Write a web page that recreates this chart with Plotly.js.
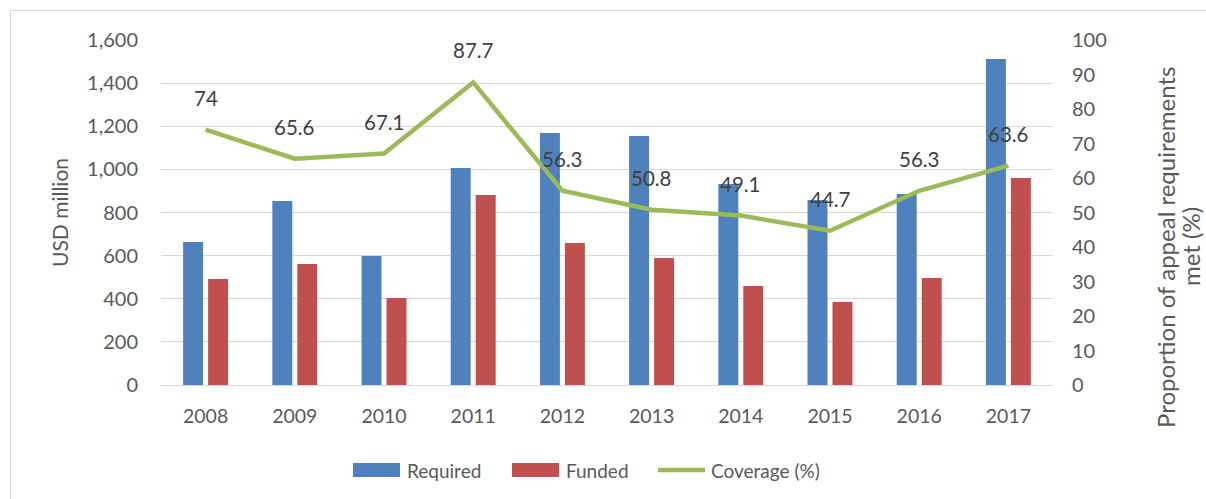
<!DOCTYPE html>
<html>
<head>
<meta charset="utf-8">
<script src="https://cdn.plot.ly/plotly-3.0.1.min.js"></script>
<style>
  html, body { margin: 0; padding: 0; background: #ffffff; }
  #chart { width: 1206px; height: 499px; }
  #frame { position: absolute; left: 10px; top: 10px; width: 1200px; height: 495px;
           border-left: 1px solid #d9d9d9; border-top: 1px solid #d9d9d9; pointer-events: none; }
</style>
</head>
<body>
<div id="chart"></div>
<div id="frame"></div>
<script>
const years = ['2008','2009','2010','2011','2012','2013','2014','2015','2016','2017'];
const required = [663, 853, 598, 1006, 1169, 1155, 932, 858, 886, 1512];
const funded = [492, 561, 403, 881, 659, 589, 459, 385, 496, 960];
const coverage = [74, 65.6, 67.1, 87.7, 56.3, 50.8, 49.1, 44.7, 56.3, 63.6];
const seriesNames = ['Required', 'Funded', 'Coverage (%)'];
const colors = ['#4F81BD', '#C0504D', '#9BBB59'];
const leftTitle = 'USD million';
const rightTitleLines = ['Proportion of appeal requirements', 'met (%)'];

const FONT = 'Lato, Calibri, Carlito, sans-serif';
const TXT = '#595959';

const traces = [
  { type: 'bar', name: seriesNames[0], x: years, y: required, marker: { color: colors[0] }, showlegend: false, hoverinfo: 'y' },
  { type: 'bar', name: seriesNames[1], x: years, y: funded, marker: { color: colors[1] }, showlegend: false, hoverinfo: 'y' },
  { type: 'scatter', mode: 'lines', name: seriesNames[2], x: years, y: coverage, yaxis: 'y2',
    line: { color: colors[2], width: 4.5 }, showlegend: false, hoverinfo: 'y' }
];

// data labels: x given as category index on the category axis
const annotations = coverage.map((v, i) => ({
  x: i, y: v, xref: 'x', yref: 'y2', text: String(v), showarrow: false,
  yshift: 32, font: { family: FONT, size: 20.5, color: '#404040' }
}));

// paper coordinate helpers (plot area is 892 x 345 px)
const W = 892, H = 345, L = 161, B = 385;
const px = v => (v - L) / W;
const py = v => (B - v) / H;

// custom legend
const shapes = [
  { type: 'rect', xref: 'paper', yref: 'paper', x0: px(353), x1: px(400), y0: py(477), y1: py(463), fillcolor: colors[0], line: { width: 0 } },
  { type: 'rect', xref: 'paper', yref: 'paper', x0: px(512), x1: px(559), y0: py(477), y1: py(463), fillcolor: colors[1], line: { width: 0 } },
  { type: 'line', xref: 'paper', yref: 'paper', x0: px(658), x1: px(705), y0: py(470), y1: py(470), line: { color: colors[2], width: 4.5 } }
];
const legendText = [[405, seriesNames[0]], [564, seriesNames[1]], [709, seriesNames[2]]];
legendText.forEach(([x, t]) => annotations.push({
  xref: 'paper', yref: 'paper', x: px(x), y: py(470), xanchor: 'left', yanchor: 'middle',
  text: t, showarrow: false, font: { family: FONT, size: 19, color: TXT }
}));

// right axis title, two rotated lines placed as in the reference
[[1165, rightTitleLines[0]], [1190, rightTitleLines[1]]].forEach(([x, t]) => annotations.push({
  xref: 'paper', yref: 'paper', x: px(x), y: py(247), xanchor: 'center', yanchor: 'middle',
  textangle: -90, text: t, showarrow: false,
  font: { family: FONT, size: 24, color: TXT }
}));

const layout = {
  width: 1206, height: 499,
  margin: { l: 161, r: 153, t: 40, b: 114 },
  paper_bgcolor: '#ffffff', plot_bgcolor: '#ffffff',
  font: { family: FONT, size: 19, color: TXT },
  barmode: 'group', bargap: 0.44, bargroupgap: 0.2,
  showlegend: false,
  xaxis: {
    type: 'category', categoryarray: years, range: [-0.5, years.length - 0.5], autorange: false,
    showgrid: false, zeroline: false,
    showline: true, linecolor: '#d9d9d9', linewidth: 1,
    ticks: '', ticklabelstandoff: 14,
    tickfont: { family: FONT, size: 19.5, color: TXT }, automargin: false
  },
  yaxis: {
    range: [0, 1600], autorange: false, dtick: 200, tickformat: ',d',
    showgrid: true, gridcolor: '#d9d9d9', gridwidth: 1, zeroline: false,
    showline: false, ticks: '', ticklabelstandoff: 22,
    tickfont: { family: FONT, size: 20, color: TXT }, automargin: false,
    title: { text: leftTitle, font: { family: FONT, size: 21, color: TXT }, standoff: 12 }
  },
  yaxis2: {
    overlaying: 'y', side: 'right', range: [0, 100], autorange: false, dtick: 10,
    showgrid: false, zeroline: false, showline: false, ticks: '', ticklabelstandoff: 18,
    tickfont: { family: FONT, size: 20, color: TXT }, automargin: false
  },
  annotations: annotations,
  shapes: shapes
};

Plotly.newPlot('chart', traces, layout, { displayModeBar: false, staticPlot: true });
</script>
</body>
</html>
